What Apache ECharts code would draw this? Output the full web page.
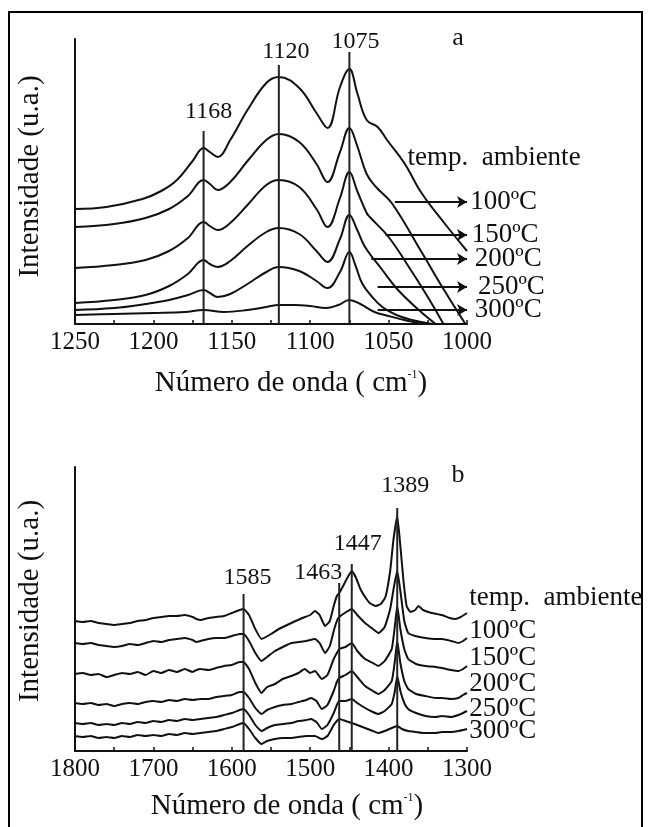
<!DOCTYPE html>
<html>
<head>
<meta charset="utf-8">
<script src="https://cdn.jsdelivr.net/npm/echarts@6/dist/echarts.min.js"></script>
<style>
  html, body { margin: 0; padding: 0; background: #fff; }
  #c { width: 648px; height: 827px; }
</style>
</head>
<body>
<div id="c"></div>
<script>
// Espectros de infravermelho: (a) região 1250–1000 cm-1, (b) região 1800–1300 cm-1
const temperaturas = ['temp.  ambiente', '100ºC', '150ºC', '200ºC', '250ºC', '300ºC'];

// ---------- (a) ----------
const ticksA = [1250, 1200, 1150, 1100, 1050, 1000];
const picosA = [1168, 1120, 1075];
const topoPicosA = [193, 259, 272];      // altura das linhas verticais
const alturaRotuloPicosA = [212, 272, 282];

const a_amb = [[1250,115],[1230,117],[1207,125],[1195,133],[1185,144],[1175,163],[1168,176],[1164,172],[1159,167],[1151,184],[1140,214],[1128,241],[1120,247],[1107,236],[1096,211],[1089,196],[1081,237],[1075,255],[1070,231],[1064,204],[1057,197],[1051,184],[1040,161],[1029,131],[1015,102],[1000,73]];
const a_100 = [[1250,97],[1225,100],[1205,106],[1190,115],[1178,128],[1168,144],[1164,140],[1159,134],[1151,142],[1140,163],[1128,184],[1120,190],[1107,182],[1096,160],[1089,142],[1081,172],[1075,196],[1070,178],[1064,150],[1058,137],[1048,121],[1029,72],[1015,35],[1001,0]];
const a_150 = [[1250,56],[1225,59],[1205,64],[1190,73],[1178,86],[1168,102],[1164,98],[1159,94],[1151,101],[1140,119],[1128,139],[1120,144],[1107,137],[1096,115],[1089,97],[1081,126],[1075,152],[1070,133],[1064,111],[1062,107],[1050,87],[1035,52],[1025,27],[1015,0]];
const a_200 = [[1250,21],[1225,24],[1205,29],[1190,38],[1178,50],[1168,64],[1164,60],[1159,57],[1151,63],[1140,78],[1128,92],[1120,96],[1107,90],[1096,73],[1089,62],[1081,85],[1075,109],[1070,94],[1065,77],[1054,54],[1044,34],[1030,13],[1020,0]];
const a_250 = [[1250,14],[1225,16],[1205,20],[1190,24],[1178,29],[1168,34],[1164,31],[1159,27],[1151,30],[1140,40],[1128,52],[1120,57],[1107,53],[1096,43],[1089,36],[1081,52],[1075,72],[1071,58],[1067,41],[1061,28],[1054,17],[1045,9],[1035,4],[1022,0]];
const a_300 = [[1250,9],[1225,10],[1200,11],[1180,12],[1168,14],[1155,12],[1140,14],[1128,17],[1120,19],[1110,19],[1100,18],[1090,16],[1082,19],[1075,24],[1068,20],[1059,12],[1050,8],[1040,4],[1028,0]];
const espectrosA = [a_amb, a_100, a_150, a_200, a_250, a_300];

// setas: [início, fim, altura]
const setasA = [[1046,1000,122],[1052,1000,89],[1061,1000,65],[1057,1000,37],[1057,1000,14]];
const rotulosPosA = [[1038,166],[998,122],[997,89],[995,65],[993,37],[995,14]];

// ---------- (b) ----------
const ticksB = [1800, 1700, 1600, 1500, 1400, 1300];
const picosB = [1585, 1463, 1447, 1389];
const topoPicosB = [157, 168, 187, 243];
const alturaRotuloPicosB = [173, 178, 207, 265];

const b_amb = [[1800,130],[1790,129],[1780,130],[1770,128],[1760,127],[1750,126],[1740,127],[1730,128],[1720,130],[1710,131],[1700,133],[1690,134],[1680,135],[1670,135],[1660,136],[1650,134],[1645,132],[1640,131],[1630,133],[1620,134],[1610,135],[1600,138],[1590,141],[1585,142],[1578,136],[1570,122],[1562,112],[1550,117],[1540,122],[1524,128],[1510,133],[1500,136],[1494,140],[1488,136],[1481,125],[1475,130],[1470,145],[1466,155],[1463,158],[1458,165],[1452,174],[1447,180],[1442,174],[1436,162],[1430,154],[1424,148],[1417,145],[1410,147],[1404,154],[1398,180],[1394,210],[1389,235],[1385,205],[1381,170],[1377,145],[1372,139],[1366,141],[1362,145],[1356,141],[1345,138],[1332,136],[1322,133],[1315,132],[1308,134],[1300,138]];
const b_100 = [[1800,108],[1790,107],[1780,108],[1770,106],[1760,105],[1750,104],[1740,105],[1730,107],[1720,106],[1710,108],[1700,110],[1690,109],[1680,111],[1670,112],[1660,113],[1650,111],[1645,109],[1640,110],[1630,112],[1620,113],[1610,113],[1600,115],[1590,117],[1585,117],[1578,110],[1570,98],[1562,90],[1555,94],[1545,100],[1535,104],[1524,108],[1515,109],[1505,110],[1494,112],[1488,108],[1481,98],[1475,105],[1470,120],[1466,130],[1463,134],[1456,138],[1447,142],[1440,136],[1430,128],[1420,122],[1413,118],[1405,124],[1398,142],[1393,165],[1389,180],[1385,160],[1380,130],[1375,118],[1366,115],[1353,113],[1340,112],[1332,112],[1320,110],[1311,108],[1305,110],[1300,113]];
const b_150 = [[1800,77],[1790,78],[1780,76],[1770,77],[1760,74],[1750,76],[1740,78],[1730,77],[1720,79],[1710,76],[1700,80],[1690,78],[1680,81],[1670,79],[1660,82],[1650,79],[1645,81],[1640,82],[1630,81],[1620,83],[1610,85],[1600,86],[1590,89],[1585,89],[1578,82],[1570,68],[1562,58],[1555,64],[1545,67],[1535,72],[1524,75],[1515,78],[1507,82],[1500,78],[1494,80],[1485,72],[1478,76],[1470,92],[1466,98],[1463,102],[1455,104],[1447,108],[1440,100],[1430,92],[1420,88],[1413,85],[1405,90],[1396,102],[1392,125],[1389,145],[1385,122],[1380,102],[1375,92],[1365,87],[1353,85],[1340,84],[1332,83],[1320,81],[1311,80],[1305,82],[1300,85]];
const b_200 = [[1800,48],[1790,47],[1780,48],[1770,46],[1760,47],[1750,45],[1740,47],[1730,48],[1720,47],[1710,49],[1700,50],[1690,49],[1680,51],[1670,50],[1660,52],[1650,51],[1640,52],[1630,52],[1620,54],[1610,55],[1600,56],[1590,59],[1585,59],[1578,53],[1570,43],[1562,37],[1555,41],[1545,44],[1535,46],[1524,47],[1515,49],[1505,51],[1499,53],[1492,50],[1485,42],[1478,46],[1470,60],[1466,69],[1463,73],[1455,76],[1447,80],[1440,74],[1430,65],[1420,60],[1413,57],[1405,61],[1396,70],[1392,90],[1389,110],[1385,88],[1380,70],[1375,62],[1365,57],[1353,55],[1340,53],[1332,53],[1320,52],[1311,53],[1305,56],[1300,58]];
const b_250 = [[1800,28],[1790,27],[1780,28],[1770,26],[1760,27],[1750,26],[1740,28],[1730,27],[1720,29],[1710,28],[1700,30],[1690,29],[1680,31],[1670,30],[1660,32],[1650,31],[1640,32],[1630,33],[1620,34],[1610,36],[1600,38],[1590,41],[1585,42],[1578,36],[1570,26],[1562,20],[1555,23],[1545,26],[1535,27],[1524,28],[1515,30],[1505,31],[1499,32],[1492,29],[1485,22],[1478,26],[1470,38],[1466,46],[1463,50],[1455,50],[1447,52],[1440,48],[1430,43],[1420,39],[1413,37],[1405,40],[1396,47],[1392,60],[1389,75],[1385,60],[1380,48],[1375,42],[1365,38],[1353,35],[1340,34],[1332,35],[1320,34],[1311,36],[1305,38],[1300,40]];
const b_300 = [[1800,15],[1790,14],[1780,15],[1770,13],[1760,14],[1750,13],[1740,15],[1730,14],[1720,16],[1710,15],[1700,16],[1690,15],[1680,17],[1670,16],[1660,18],[1650,17],[1640,18],[1630,19],[1620,20],[1610,22],[1600,24],[1590,27],[1585,28],[1578,22],[1570,13],[1562,7],[1555,10],[1545,12],[1535,13],[1524,13],[1515,14],[1505,15],[1494,15],[1485,12],[1478,15],[1470,26],[1466,30],[1463,32],[1455,30],[1447,28],[1440,26],[1430,23],[1420,20],[1413,18],[1405,20],[1396,23],[1389,25],[1383,22],[1375,20],[1365,19],[1353,18],[1340,18],[1332,19],[1320,19],[1311,20],[1305,21],[1300,22]];
const espectrosB = [b_amb, b_100, b_150, b_200, b_250, b_300];

const rotulosPosB = [[1297,153],[1297,120],[1297,93],[1297,67],[1297,42],[1297,20]];

// deslocamento horizontal (px) dos rótulos dos picos
const dxPicosA = [5, 7, 6];
const dxPicosB = [4, -21, 6, 8];

// ---------- estilo ----------
const FONTE = 'Liberation Serif, Times New Roman, serif';
const COR = '#111111';

function eixoX(idx, min, max, intervalo, ticks, gapNome, padNome) {
  return {
    gridIndex: idx, type: 'value', min: min, max: max, inverse: true, interval: intervalo,
    axisLine: { show: true, onZero: false, lineStyle: { color: COR, width: 2 } },
    axisTick: { show: true, inside: true, length: 4, interval: 0, lineStyle: { color: COR, width: 1.5 } },
    axisLabel: {
      interval: 0, margin: 6, color: COR, fontFamily: FONTE, fontSize: 25,
      showMinLabel: true, showMaxLabel: true,
      formatter: v => ticks.includes(v) ? String(v) : ''
    },
    splitLine: { show: false },
    name: 'Número de onda ( cm{s|-1})',
    nameLocation: 'middle', nameGap: gapNome,
    nameTextStyle: {
      color: COR, fontFamily: FONTE, fontSize: 29, padding: padNome,
      rich: { s: { fontFamily: FONTE, fontSize: 12, color: COR, verticalAlign: 'top', padding: [0, 0, 15, 0] } }
    }
  };
}

function eixoY(idx, max, padNome) {
  return {
    gridIndex: idx, type: 'value', min: 0, max: max,
    axisLine: { show: true, onZero: false, lineStyle: { color: COR, width: 2 } },
    axisTick: { show: false }, axisLabel: { show: false }, splitLine: { show: false },
    name: 'Intensidade (u.a.)', nameLocation: 'middle', nameGap: 30, nameRotate: 90,
    nameTextStyle: { color: COR, fontFamily: FONTE, fontSize: 29, padding: padNome }
  };
}

function espectros(idx, lista, suave) {
  return lista.map((d, i) => ({
    name: temperaturas[i], type: 'line', xAxisIndex: idx, yAxisIndex: idx,
    data: d, symbol: 'none', smooth: suave, clip: false,
    lineStyle: { color: COR, width: 2 }, z: 3
  }));
}

function linhasPicos(idx, picos, topos) {
  return picos.map((p, i) => ({
    type: 'line', xAxisIndex: idx, yAxisIndex: idx,
    data: [[p, 0], [p, topos[i]]], symbol: 'none',
    lineStyle: { color: '#222222', width: 2 }, z: 4
  }));
}

const rotuloBase = { show: true, color: COR, opacity: 1, fontFamily: FONTE, textBorderWidth: 0, textBorderColor: 'transparent' };

function rotulosPicos(idx, picos, alturas, dx) {
  return {
    type: 'scatter', xAxisIndex: idx, yAxisIndex: idx, symbolSize: 0, clip: false,
    itemStyle: { color: COR, opacity: 1 },
    data: picos.map((p, i) => ({ value: [p, alturas[i]], label: { offset: [dx[i], 0] } })),
    label: Object.assign({}, rotuloBase, {
      position: 'inside', fontSize: 24,
      formatter: q => String(q.value[0])
    }), z: 5
  };
}

function rotulosTemp(idx, pos) {
  return {
    type: 'scatter', xAxisIndex: idx, yAxisIndex: idx, symbolSize: 0, clip: false,
    itemStyle: { color: COR, opacity: 1 },
    data: temperaturas.map((t, i) => ({ value: pos[i], name: t })),
    label: Object.assign({}, rotuloBase, {
      position: 'right', distance: 0, fontSize: 27, formatter: '{b}'
    }), z: 5
  };
}

const setas = {
  type: 'line', xAxisIndex: 0, yAxisIndex: 0, data: [], symbol: 'none',
  markLine: {
    silent: true, symbol: ['none', 'arrow'], symbolSize: [9, 10],
    label: { show: false },
    lineStyle: { color: COR, width: 2, type: 'solid' },
    data: setasA.map(s => [{ coord: [s[0], s[2]] }, { coord: [s[1], s[2]] }])
  }
};

const chart = echarts.init(document.getElementById('c'), null, { renderer: 'canvas' });
chart.setOption({
  animation: false,
  backgroundColor: '#ffffff',
  grid: [
    { left: 75, top: 39, width: 392, height: 285 },
    { left: 75, top: 467, width: 392, height: 284 }
  ],
  xAxis: [
    eixoX(0, 1000, 1250, 25, ticksA, 45, [0, 0, 0, 40]),
    eixoX(1, 1300, 1800, 50, ticksB, 41, [0, 0, 0, 32])
  ],
  yAxis: [
    eixoY(0, 285, [0, 0, 0, 10]),
    eixoY(1, 284, [0, 0, 0, 16])
  ],
  graphic: [
    { type: 'polyline', shape: { points: [[9, 827], [9, 12], [642, 12], [642, 827]] },
      style: { stroke: '#000', lineWidth: 2, fill: null }, z: 10 },
    { type: 'text', x: 458, y: 38, style: { text: 'a', font: '26px ' + FONTE, fill: COR, textAlign: 'center', textVerticalAlign: 'middle' } },
    { type: 'text', x: 458, y: 475, style: { text: 'b', font: '26px ' + FONTE, fill: COR, textAlign: 'center', textVerticalAlign: 'middle' } }
  ],
  series: [
    ...espectros(0, espectrosA, 0.4),
    ...linhasPicos(0, picosA, topoPicosA),
    rotulosPicos(0, picosA, alturaRotuloPicosA, dxPicosA),
    rotulosTemp(0, rotulosPosA),
    setas,
    ...espectros(1, espectrosB, 0.15),
    ...linhasPicos(1, picosB, topoPicosB),
    rotulosPicos(1, picosB, alturaRotuloPicosB, dxPicosB),
    rotulosTemp(1, rotulosPosB)
  ]
});
</script>
</body>
</html>
